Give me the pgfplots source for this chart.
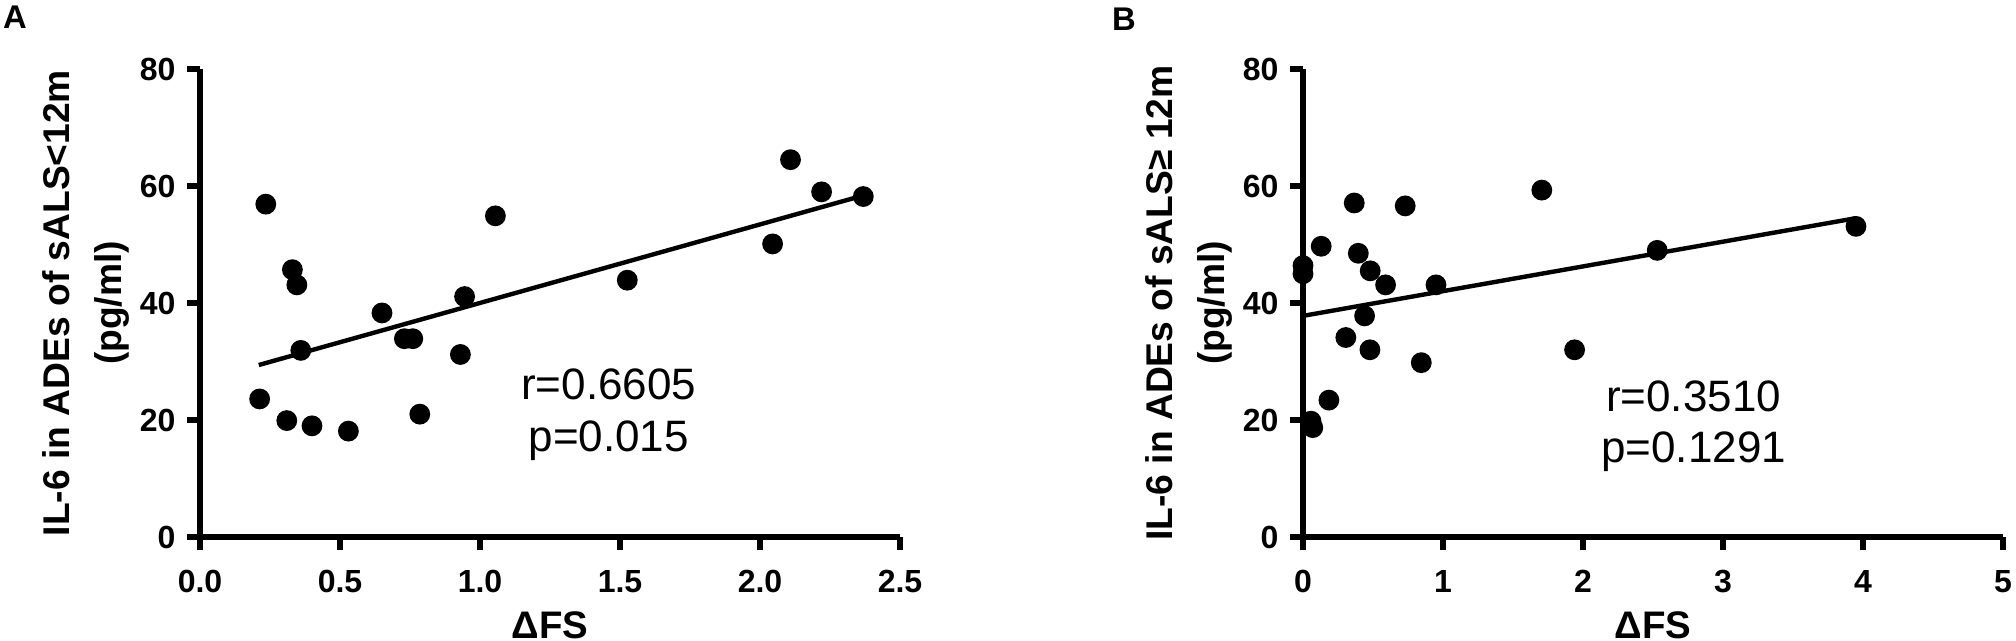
\documentclass[border=0pt]{standalone}
\usepackage{fontspec}
\setmainfont{Liberation Sans}
\usepackage{pgfplots}
\pgfplotsset{compat=1.18}
\pgfplotstableread{
x y
0.213 23.6
0.235 56.9
0.31 19.9
0.33 45.7
0.346 43.1
0.36 31.9
0.40 19.0
0.53 18.1
0.65 38.3
0.73 33.9
0.76 33.9
0.785 21.0
0.93 31.2
0.945 41.1
1.055 54.9
1.526 43.9
2.045 50.1
2.109 64.5
2.22 59.0
2.369 58.2
}\dataA
\pgfplotstableread{
x y
0 46.4
0 45.0
0.057 19.8
0.07 18.7
0.13 49.7
0.185 23.4
0.306 34.1
0.366 57.1
0.395 48.5
0.44 37.8
0.48 45.5
0.478 32.0
0.59 43.1
0.73 56.6
0.845 29.8
0.95 43.1
1.706 59.3
1.94 32.0
2.53 49.0
3.95 53.1
}\dataB
\begin{document}
\begin{tikzpicture}
\path[use as bounding box] (0,0) rectangle (504pt,160.25pt);
\pgfplotsset{prism/.style={
  scale only axis, width=175pt, height=117pt,
  axis x line*=bottom, axis y line*=left,
  axis line style={line width=1.5pt},
  tick style={line width=1.5pt, black},
  tick align=outside, major tick length=3.2pt,
  ymin=0, ymax=80, ytick={0,20,...,80},
  clip=false,
  /pgf/number format/assume math mode=true,
  ticklabel style={font=\bfseries\fontsize{8}{9}\selectfont},
  xticklabel style={yshift=-1.6pt},
  yticklabel style={xshift=0.6pt},
  label style={font=\bfseries\fontsize{9.3}{12.8}\selectfont},
  xlabel={ΔFS},
  xlabel style={at={(axis description cs:0.5,-0.216)},anchor=base,font=\bfseries\fontsize{9.6}{11}\selectfont},
  ylabel style={at={(axis description cs:-0.163,0.5)},anchor=center,align=center},
}}
\begin{axis}[prism, at={(50pt,26pt)}, anchor=south west,
  xmin=0, xmax=2.5, xtick={0,0.5,...,2.5},
  xticklabel style={/pgf/number format/.cd,fixed,fixed zerofill,precision=1},
  ylabel={IL-6 in ADEs of sALS<12m\\(pg/ml)}]
\addplot[only marks, mark=*, mark size=2.4pt, black] table[x=x,y=y] {\dataA};
\addplot[black, line width=1.1pt] coordinates {(0.21,29.4) (2.37,58.4)};
\node[align=center, font=\fontsize{11}{12.8}\selectfont] at (axis cs:1.46,20.9) {r=0.6605\\p=0.015};
\end{axis}
\begin{axis}[prism, at={(325.75pt,26pt)}, anchor=south west,
  xmin=0, xmax=5, xtick={0,1,...,5},
  ylabel={IL-6 in ADEs of sALS≥ 12m\\(pg/ml)}]
\addplot[only marks, mark=*, mark size=2.4pt, black] table[x=x,y=y] {\dataB};
\addplot[black, line width=1.1pt] coordinates {(0,37.8) (3.95,54.5)};
\node[align=center, font=\fontsize{11}{12.8}\selectfont] at (axis cs:2.79,19.0) {r=0.3510\\p=0.1291};
\end{axis}
\node[font=\bfseries\fontsize{8.2}{9}\selectfont, anchor=north west, inner sep=0pt] at (0.6pt,159pt) {A};
\node[font=\bfseries\fontsize{8.2}{9}\selectfont, anchor=north west, inner sep=0pt] at (277.8pt,158.5pt) {B};
\end{tikzpicture}
\end{document}
